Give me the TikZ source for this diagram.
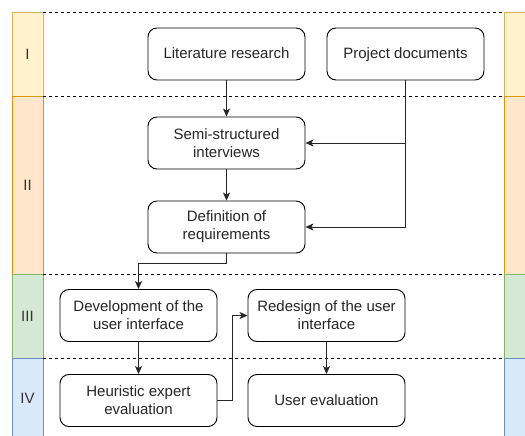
\documentclass[tikz,border=0pt]{standalone}
\usepackage{fontspec}
\setmainfont{Liberation Sans}
\usetikzlibrary{arrows.meta}
\definecolor{fI}{HTML}{FFF2CC}\definecolor{sI}{HTML}{D6B656}
\definecolor{fII}{HTML}{FFE6CC}\definecolor{sII}{HTML}{D79B00}
\definecolor{fIII}{HTML}{D5E8D4}\definecolor{sIII}{HTML}{82B366}
\definecolor{fIV}{HTML}{DAE8FC}\definecolor{sIV}{HTML}{6C8EBF}
\definecolor{lbl}{HTML}{333333}
\tikzset{
  stepbox/.style={draw=black, line width=0.9pt, rounded corners=9pt, fill=white,
    minimum width=157pt, minimum height=52pt, align=center, inner sep=2pt,
    font=\fontsize{15}{18}\selectfont, text=black!85},
  oneline/.style={text height=12pt, text depth=2.5pt},
  lane/.style={line width=0.9pt},
  lanelabel/.style={font=\fontsize{15}{18}\selectfont, text=lbl},
  sep/.style={line width=0.8pt, dash pattern=on 3pt off 3pt},
  conn/.style={line width=0.9pt, draw=black!85, -{Stealth[length=8pt,width=7pt,inset=2pt]}}
}
\begin{document}
\begin{tikzpicture}[x=1pt,y=-1pt]
\clip (0,0) rectangle (525,436);
\fill[white] (0,0) rectangle (525,436);
% left lanes
\draw[lane, draw=sI, fill=fI] (12,12) rectangle (43,96);
\draw[lane, draw=sII, fill=fII] (12,96) rectangle (43,274);
\draw[lane, draw=sIII, fill=fIII] (12,274) rectangle (43,358);
\draw[lane, draw=sIV, fill=fIV] (12,358) rectangle (43,440);
% right lanes
\draw[lane, draw=sI, fill=fI] (504,12) rectangle (540,96);
\draw[lane, draw=sII, fill=fII] (504,96) rectangle (540,274);
\draw[lane, draw=sIII, fill=fIII] (504,274) rectangle (540,358);
\draw[lane, draw=sIV, fill=fIV] (504,358) rectangle (540,440);
% labels
\node[lanelabel] (lI) at (27.5,54) {I};
\node[lanelabel] (lII) at (27.5,185) {II};
\node[lanelabel] (lIII) at (27.5,316) {III};
\node[lanelabel] (lIV) at (27.5,398) {IV};
% separators
\coordinate (s1a) at (43,12);  \coordinate (s1b) at (504,12);
\coordinate (s2a) at (43,96);  \coordinate (s2b) at (504,96);
\coordinate (s3a) at (43,274); \coordinate (s3b) at (504,274);
\coordinate (s4a) at (43,358); \coordinate (s4b) at (504,358);
\draw[sep] (s1a) -- (s1b);
\draw[sep] (s2a) -- (s2b);
\draw[sep] (s3a) -- (s3b);
\draw[sep] (s4a) -- (s4b);
% boxes
\node[stepbox, oneline] (lit) at (226.5,54) {Literature research};
\node[stepbox, oneline] (proj) at (405.5,54) {Project documents};
\node[stepbox] (semi) at (226.5,143) {Semi-structured\\interviews};
\node[stepbox] (def) at (226.5,227) {Definition of\\requirements};
\node[stepbox] (dev) at (138.5,315.5) {Development of the\\user interface};
\node[stepbox] (red) at (326.5,315.5) {Redesign of the user\\interface};
\node[stepbox] (heu) at (138.5,400.5) {Heuristic expert\\evaluation};
\node[stepbox, oneline] (usr) at (326.5,400.5) {User evaluation};
% connectors
\draw[conn] (lit) -- (semi);
\draw[conn] (semi) -- (def);
\draw[conn] (proj.south) |- (semi.east);
\draw[conn] (proj.south) |- (def.east);
\draw[conn] (def.south) -- ++(0,10) -| (dev.north);
\draw[conn] (dev) -- (heu);
\draw[conn] (heu.east) -- ++(15,0) |- (red.west);
\draw[conn] (red) -- (usr);
\end{tikzpicture}
\end{document}
